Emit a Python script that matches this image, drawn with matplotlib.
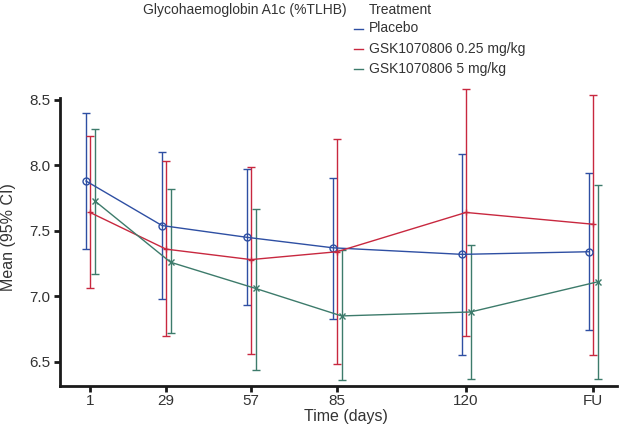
import matplotlib
matplotlib.use("Agg")
import matplotlib.pyplot as plt
from matplotlib.lines import Line2D

plt.rcParams['font.family'] = ['Liberation Sans', 'DejaVu Sans']

visits = ['1', '29', '57', '85', '120', 'FU']
visit_pos = [90, 166, 251, 337, 466, 593]  # axis positions of visits

treatments = ['Placebo', 'GSK1070806 0.25 mg/kg', 'GSK1070806 5 mg/kg']

placebo_mean = [7.88, 7.54, 7.45, 7.37, 7.32, 7.34]
placebo_lo   = [7.36, 6.98, 6.93, 6.83, 6.55, 6.74]
placebo_hi   = [8.40, 8.10, 7.97, 7.90, 8.09, 7.94]

low_mean = [7.64, 7.36, 7.28, 7.34, 7.64, 7.55]
low_lo   = [7.06, 6.70, 6.56, 6.48, 6.70, 6.55]
low_hi   = [8.22, 8.03, 7.99, 8.20, 8.58, 8.54]

high_mean = [7.73, 7.26, 7.06, 6.85, 6.88, 7.11]
high_lo   = [7.17, 6.72, 6.44, 6.36, 6.37, 6.37]
high_hi   = [8.28, 7.82, 7.67, 7.35, 7.39, 7.85]

colors = ['#2E4FA3', '#C8283F', '#3D7B6B']
markers = ['o', '+', 'x']
offsets = [-4, 0, 4.5]

W, H = 635, 428
fig = plt.figure(figsize=(W / 100, H / 100), dpi=100)
ax = fig.add_axes([60/W, 1-386/H, (617-60)/W, (386-97.7)/H])

series = [(placebo_mean, placebo_lo, placebo_hi),
          (low_mean, low_lo, low_hi),
          (high_mean, high_lo, high_hi)]

for (m, lo, hi), c, mk, off in zip(series, colors, markers, offsets):
    xs = [p + off for p in visit_pos]
    yerr = [[a - b for a, b in zip(m, lo)], [b - a for a, b in zip(m, hi)]]
    ax.errorbar(xs, m, yerr=yerr, color=c, lw=1.0, elinewidth=1.0,
                capsize=2.8, capthick=1.0, marker=mk, ms=5,
                mfc='none', mew=1.0, clip_on=False)

ax.set_xlim(60, 617)
ax.set_ylim(6.315, 8.516)
ax.set_xticks(visit_pos)
ax.set_xticklabels(visits)
ax.set_yticks([6.5, 7.0, 7.5, 8.0, 8.5])
ax.set_yticklabels(['6.5', '7.0', '7.5', '8.0', '8.5'])
for s in ['top', 'right']:
    ax.spines[s].set_visible(False)
for s in ['left', 'bottom']:
    ax.spines[s].set_linewidth(2.0)
    ax.spines[s].set_color('#1a1a1a')
ax.tick_params(axis='both', direction='out', length=4, width=2.0, labelsize=11,
               color='#1a1a1a', labelcolor='#333333')
ax.tick_params(axis='x', pad=2)
ax.tick_params(axis='y', pad=3)
ax.set_xlabel('Time (days)', fontsize=11.5, color='#333333', va='top')
ax.xaxis.set_label_coords((345.5 - 60) / (617 - 60), -(409.5 - 386) / (386 - 97.7))
ax.set_ylabel('Mean (95% CI)', fontsize=11.5, color='#333333', va='center')
ax.yaxis.set_label_coords(-(60 - 9) / (617 - 60), (386 - 237) / (386 - 97.7))

txt = '#333333'
fig.text(143/W, 1-10/H, 'Glycohaemoglobin A1c (%TLHB)', fontsize=10,
         ha='left', va='center', color=txt)
fig.text(369/W, 1-10/H, 'Treatment', fontsize=10, ha='left', va='center', color=txt)
row_y = [28.5, 48.5, 68.5]
for lab, c, y in zip(treatments, colors, row_y):
    fig.add_artist(Line2D([354/W, 363/W], [1-y/H, 1-y/H], color=c, lw=1.0,
                          transform=fig.transFigure))
    fig.text(369/W, 1-y/H, lab, fontsize=10, ha='left', va='center', color=txt)

fig.savefig('out.png', dpi=100)
